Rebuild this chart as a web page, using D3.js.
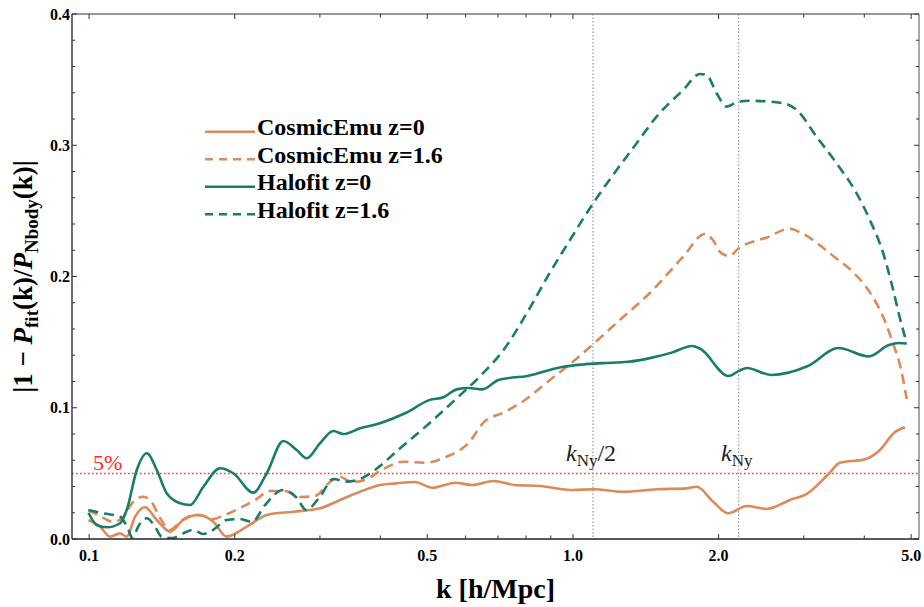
<!DOCTYPE html>
<html>
<head>
<meta charset="utf-8">
<script src="https://cdn.jsdelivr.net/npm/d3@7"></script>
<style>
  body { margin: 0; background: #fff; }
  svg { display: block; }
</style>
</head>
<body>
<div id="chart"></div>
<script>
// axis ticks
const kTicks = [0.1, 0.2, 0.5, 1.0, 2.0, 5.0];
const kMinorTicks = [0.3, 0.4, 0.6, 0.7, 0.8, 0.9, 3, 4];
const errTicks = [0, 0.1, 0.2, 0.3, 0.4];
const errMinorTicks = d3.range(0, 0.4001, 0.02);
const kNyHalf = 1.1;
const kNy = 2.2;
const threshold = 0.05;

const legendLabels = ['CosmicEmu z=0', 'CosmicEmu z=1.6', 'Halofit z=0', 'Halofit z=1.6'];

// CosmicEmu z=0
const emuZ0K = [0.0997, 0.1054, 0.1105, 0.1159, 0.1196, 0.1245, 0.1305, 0.138, 0.147, 0.1566, 0.1682, 0.1806, 0.1925,
  0.2118, 0.2329, 0.2643, 0.300, 0.3302, 0.363, 0.3992, 0.4307, 0.4716, 0.5118, 0.5723, 0.6184, 0.6855, 0.7591, 0.8548,
  1.001, 1.102, 1.270, 1.489, 1.718, 1.802, 1.949, 2.094, 2.285, 2.513, 2.808, 3.055, 3.385, 3.562, 4.019, 4.308, 4.611, 4.853];
const emuZ0 = [0.0145, 0.0094, 0.0018, 0.0043, 0.0018, 0.0170, 0.0242, 0.0145, 0.0056, 0.0145, 0.0183, 0.0132, 0.0018,
  0.0094, 0.0183, 0.0208, 0.0234, 0.0297, 0.0360, 0.0411, 0.0424, 0.0434, 0.0391, 0.0429, 0.0411, 0.0442, 0.0411, 0.0404,
  0.0373, 0.0379, 0.0360, 0.0379, 0.0386, 0.0398, 0.0284, 0.0196, 0.0251, 0.0229, 0.0297, 0.0348, 0.0501, 0.0581, 0.0607, 0.0678, 0.0810, 0.0851];

// CosmicEmu z=1.6
const emuZ16K = [0.0996, 0.1054, 0.1121, 0.117, 0.1233, 0.1293, 0.1337, 0.1402, 0.147, 0.1542, 0.1617, 0.1696, 0.1796,
  0.191, 0.2051, 0.2203, 0.2366, 0.2541, 0.2729, 0.2931, 0.3147, 0.3302, 0.3495, 0.3718, 0.4025, 0.4461, 0.4945, 0.5482,
  0.6077, 0.6564, 0.7236, 0.7958, 0.8963, 1.010, 1.137, 1.250, 1.442, 1.688, 1.874, 1.947, 2.012, 2.100, 2.213, 2.524,
  2.801, 2.959, 3.477, 3.771, 4.089, 4.359, 4.575, 4.762, 4.895];
const emuZ16 = [0.0221, 0.0175, 0.0130, 0.0160, 0.0282, 0.0322, 0.0297, 0.0160, 0.0069, 0.0130, 0.0175, 0.0183, 0.0152,
  0.0183, 0.0236, 0.0297, 0.0366, 0.0366, 0.0320, 0.0328, 0.0434, 0.0472, 0.0434, 0.0450, 0.0526, 0.0589, 0.0581, 0.0627,
  0.0729, 0.0894, 0.0968, 0.1059, 0.1211, 0.1364, 0.1531, 0.1669, 0.1874, 0.2149, 0.2324, 0.2278, 0.2189, 0.2156, 0.2222,
  0.2299, 0.2364, 0.2333, 0.2146, 0.2042, 0.1890, 0.1707, 0.1502, 0.1295, 0.1067];

// Halofit z=0
const halofitZ0K = [0.0997, 0.1037, 0.1088, 0.1159, 0.1196, 0.1255, 0.1316, 0.138, 0.1447, 0.1542, 0.1617, 0.1723, 0.1865,
  0.1987, 0.2185, 0.2329, 0.252, 0.2686, 0.2818, 0.300, 0.3197, 0.3353, 0.363, 0.3992, 0.451, 0.506, 0.54, 0.575, 0.61,
  0.65, 0.70, 0.75, 0.80, 0.88, 0.95, 1.05, 1.15, 1.30, 1.45, 1.60, 1.762, 1.83, 2.097, 2.208, 2.288, 2.566, 3.059, 3.537,
  4.089, 4.497, 4.716, 4.898];
const halofitZ0 = [0.0200, 0.0107, 0.0089, 0.0120, 0.0221, 0.0526, 0.0653, 0.0526, 0.0348, 0.0272, 0.0259, 0.0398, 0.0539,
  0.0501, 0.0353, 0.0501, 0.0747, 0.0678, 0.0615, 0.0729, 0.0823, 0.0800, 0.0843, 0.0882, 0.0960, 0.1060, 0.1080, 0.1140, 0.1150,
  0.1140, 0.1210, 0.1230, 0.1240, 0.1280, 0.1310, 0.1330, 0.1340, 0.1350, 0.1380, 0.1420, 0.1470, 0.1451, 0.1242, 0.1283,
  0.1303, 0.1250, 0.1318, 0.1455, 0.1391, 0.1478, 0.1493, 0.1489];

// Halofit z=1.6
const halofitZ16K = [0.0997, 0.107, 0.1159, 0.1206, 0.1227, 0.1269, 0.1316, 0.1362, 0.1415, 0.1484, 0.1566, 0.164, 0.172,
  0.1804, 0.1925, 0.2051, 0.2172, 0.231, 0.2516, 0.269, 0.2808, 0.300, 0.3197, 0.3407, 0.363, 0.3898, 0.4328, 0.5112,
  0.5705, 0.6426, 0.7236, 0.807, 0.8963, 0.9858, 1.101, 1.231, 1.354, 1.489, 1.690, 1.830, 1.889, 1.981, 2.078, 2.196,
  2.322, 2.720, 2.899, 3.188, 3.506, 3.857, 4.109, 4.377, 4.590, 4.738, 4.875];
const halofitZ16 = [0.0221, 0.0196, 0.0170, 0.0069, 0.0010, 0.0107, 0.0158, 0.0107, 0.0015, 0.0008, 0.0043, 0.0069, 0.0038,
  0.0069, 0.0145, 0.0152, 0.0130, 0.0259, 0.0373, 0.0312, 0.0221, 0.0322, 0.0457, 0.0437, 0.0457, 0.0526, 0.0670, 0.0899,
  0.1060, 0.1240, 0.1455, 0.1735, 0.2030, 0.2278, 0.2558, 0.2811, 0.3015, 0.3218, 0.3421, 0.3543, 0.3535, 0.3396, 0.3294,
  0.3332, 0.3339, 0.3320, 0.3269, 0.3065, 0.2862, 0.2634, 0.2430, 0.2177, 0.1897, 0.1684, 0.1516];

const orange = '#dc8a58';
const teal = '#197d68';

const series = [
  { name: legendLabels[0], k: emuZ0K, v: emuZ0, color: orange, dashed: false },
  { name: legendLabels[1], k: emuZ16K, v: emuZ16, color: orange, dashed: true },
  { name: legendLabels[2], k: halofitZ0K, v: halofitZ0, color: teal, dashed: false },
  { name: legendLabels[3], k: halofitZ16K, v: halofitZ16, color: teal, dashed: true }
];

const width = 924, height = 607;
const margin = { left: 72, right: 919, top: 14, bottom: 539 };
const serif = '"Liberation Serif", "Times New Roman", serif';

const svg = d3.select('#chart').append('svg')
  .attr('width', width)
  .attr('height', height)
  .style('font-family', serif);

const x = d3.scaleLog().domain([0.0922, 5.19]).range([margin.left, margin.right]);
const y = d3.scaleLinear().domain([0, 0.4]).range([margin.bottom, margin.top]);

svg.append('defs').append('clipPath').attr('id', 'plotClip')
  .append('rect')
  .attr('x', margin.left).attr('y', margin.top)
  .attr('width', margin.right - margin.left).attr('height', margin.bottom - margin.top);

// reference lines
svg.append('line')
  .attr('x1', margin.left).attr('x2', margin.right)
  .attr('y1', y(threshold)).attr('y2', y(threshold))
  .attr('stroke', '#ff3b3b').attr('stroke-width', 1.5)
  .attr('stroke-dasharray', '1.6,2.4');

[kNyHalf, kNy].forEach(k => {
  svg.append('line')
    .attr('x1', x(k)).attr('x2', x(k))
    .attr('y1', margin.top).attr('y2', margin.bottom)
    .attr('stroke', '#999').attr('stroke-width', 1.2)
    .attr('stroke-dasharray', '1.5,2');
});

// curves
const line = d3.line()
  .x(d => x(d[0]))
  .y(d => y(d[1]))
  .curve(d3.curveMonotoneX);

const plot = svg.append('g').attr('clip-path', 'url(#plotClip)');
series.forEach(s => {
  const pts = s.k.map((k, i) => [k, s.v[i]]);
  plot.append('path')
    .datum(pts)
    .attr('fill', 'none')
    .attr('stroke', s.color)
    .attr('stroke-width', 2.6)
    .attr('stroke-dasharray', s.dashed ? '10,6' : null)
    .attr('d', line);
});

// frame
const frame = svg.append('g').attr('stroke-width', 1.3);
frame.append('line').attr('x1', margin.left).attr('x2', margin.right).attr('y1', margin.top).attr('y2', margin.top).attr('stroke', '#777');
frame.append('line').attr('x1', margin.right).attr('x2', margin.right).attr('y1', margin.top).attr('y2', margin.bottom).attr('stroke', '#777');
frame.append('line').attr('x1', margin.left).attr('x2', margin.right).attr('y1', margin.bottom).attr('y2', margin.bottom).attr('stroke', '#222');
frame.append('line').attr('x1', margin.left).attr('x2', margin.left).attr('y1', margin.top).attr('y2', margin.bottom).attr('stroke', '#222');

// ticks (inward, all four sides)
const tickG = svg.append('g').attr('stroke', '#333').attr('stroke-width', 1);
kTicks.concat(kMinorTicks).forEach(k => {
  const len = kTicks.includes(k) ? 5 : 3.5;
  tickG.append('line').attr('x1', x(k)).attr('x2', x(k)).attr('y1', margin.bottom).attr('y2', margin.bottom - len);
  tickG.append('line').attr('x1', x(k)).attr('x2', x(k)).attr('y1', margin.top).attr('y2', margin.top + len);
});
errMinorTicks.forEach(v => {
  const isMajor = Math.abs(v * 10 - Math.round(v * 10)) < 1e-6;
  const len = isMajor ? 5 : 3;
  tickG.append('line').attr('x1', margin.left).attr('x2', margin.left + len).attr('y1', y(v)).attr('y2', y(v));
  tickG.append('line').attr('x1', margin.right).attr('x2', margin.right - len).attr('y1', y(v)).attr('y2', y(v));
});

// tick labels
svg.append('g').selectAll('text').data(kTicks).join('text')
  .attr('x', d => x(d)).attr('y', 561)
  .attr('text-anchor', 'middle')
  .attr('font-size', 16).attr('font-weight', 'bold')
  .text(d => d.toFixed(1));

svg.append('g').selectAll('text').data(errTicks).join('text')
  .attr('x', margin.left - 2).attr('y', d => y(d) + 5.5)
  .attr('text-anchor', 'end')
  .attr('font-size', 16).attr('font-weight', 'bold')
  .text(d => d.toFixed(1));

// axis titles
svg.append('text')
  .attr('x', (margin.left + margin.right) / 2).attr('y', 598)
  .attr('text-anchor', 'middle')
  .attr('font-size', 28).attr('font-weight', 'bold')
  .text('k [h/Mpc]');

const yTitle = svg.append('text')
  .attr('transform', `translate(32,${(margin.top + margin.bottom) / 2}) rotate(-90)`)
  .attr('text-anchor', 'middle')
  .attr('font-size', 27).attr('font-weight', 'bold');
yTitle.append('tspan').text('|1 \u2212 ');
yTitle.append('tspan').attr('font-style', 'italic').text('P');
yTitle.append('tspan').attr('font-size', 19).attr('dy', 6).text('fit');
yTitle.append('tspan').attr('dy', -6).text('(k)/');
yTitle.append('tspan').attr('font-style', 'italic').text('P');
yTitle.append('tspan').attr('font-size', 19).attr('dy', 6).text('Nbody');
yTitle.append('tspan').attr('dy', -6).text('(k)|');

// annotations
svg.append('text')
  .attr('x', 93).attr('y', 470)
  .attr('font-size', 22).attr('fill', '#ff2a2a')
  .text('5%');

function kLabel(xPos, suffix) {
  const t = svg.append('text').attr('x', xPos).attr('y', 461).attr('font-size', 24).attr('fill', '#222');
  t.append('tspan').attr('font-style', 'italic').text('k');
  t.append('tspan').attr('font-size', 17).attr('dy', 5).text('Ny');
  if (suffix) t.append('tspan').attr('dy', -5).text(suffix);
}
kLabel(566, '/2');
kLabel(721, '');

// legend
const legend = svg.append('g');
series.forEach((s, i) => {
  const ly = 131.7 + i * 27.5;
  legend.append('line')
    .attr('x1', 205).attr('x2', 255)
    .attr('y1', ly).attr('y2', ly)
    .attr('stroke', s.color).attr('stroke-width', 2.6)
    .attr('stroke-dasharray', s.dashed ? '8,6' : null);
  legend.append('text')
    .attr('x', 257).attr('y', ly + 3.5)
    .attr('font-size', 24).attr('font-weight', 'bold')
    .text(s.name);
});
</script>
</body>
</html>
